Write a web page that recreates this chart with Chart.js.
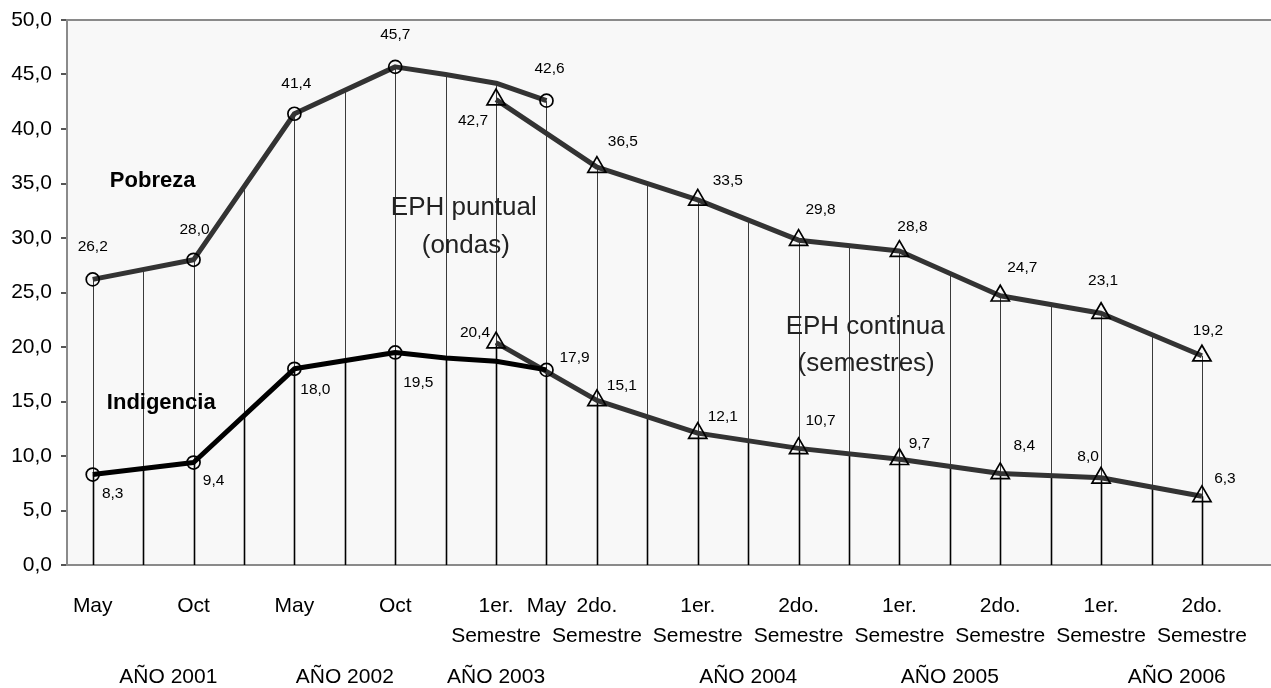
<!DOCTYPE html>
<html lang="es">
<head>
    <meta charset="UTF-8">
    <title>Pobreza e Indigencia</title>
    <script src="https://cdn.jsdelivr.net/npm/chart.js"></script>
    <style>
        body { margin: 0; background: #fff; }
        canvas { display: block; }
    </style>
</head>
<body>
    <canvas id="chart" width="1271" height="688"></canvas>

    <script>
        // Datos (posicion = indice de categoria)
        const ondasX = [0, 2, 4, 6, 9];
        const pobrezaOndas = [26.2, 28.0, 41.4, 45.7, 42.6];
        const indigenciaOndas = [8.3, 9.4, 18.0, 19.5, 17.9];

        // vertices sin rotulo donde la linea quiebra
        const ondasQuiebreX = [7, 8];
        const pobrezaOndasQuiebre = [45.0, 44.2];
        const indigenciaOndasQuiebre = [19.0, 18.7];

        const semestresX = [8, 10, 12, 14, 16, 18, 20, 22];
        const pobrezaSemestres = [42.7, 36.5, 33.5, 29.8, 28.8, 24.7, 23.1, 19.2];
        const indigenciaSemestres = [20.4, 15.1, 12.1, 10.7, 9.7, 8.4, 8.0, 6.3];

        const nCategorias = 23;
        const tickPos = [0, 2, 4, 6, 8, 9, 10, 12, 14, 16, 18, 20, 22];
        const tickLabels = ['May', 'Oct', 'May', 'Oct', ['1er.', 'Semestre'], 'May', ['2do.', 'Semestre'],
            ['1er.', 'Semestre'], ['2do.', 'Semestre'], ['1er.', 'Semestre'], ['2do.', 'Semestre'],
            ['1er.', 'Semestre'], ['2do.', 'Semestre']];

        const anios = ['AÑO 2001', 'AÑO 2002', 'AÑO 2003', 'AÑO 2004', 'AÑO 2005', 'AÑO 2006'];
        const aniosPos = [1.5, 5, 8, 13, 17, 21.5];

        // desplazamiento de los rotulos de datos (px) respecto del punto
        const offPobrezaOndas = [[0, -33], [1, -30], [2, -30], [0, -32], [3, -32]];
        const offIndigenciaOndas = [[20, 19], [20, 18], [21, 21], [23, 30], [28, -12]];
        const offPobrezaSem = [[-23, 21], [26, -25], [30, -19], [22, -30], [13, -24], [22, -28], [2, -32], [6, -25]];
        const offIndigenciaSem = [[-21, -10], [25, -15], [25, -16], [22, -28], [20, -16], [24, -28], [-13, -21], [23, -18]];

        function serie(xs, ys, qx, qy) {
            const pts = xs.map((x, j) => ({ x: x, y: ys[j], j: j }));
            if (qx) qx.forEach((x, k) => pts.push({ x: x, y: qy[k] }));
            return pts.sort((a, b) => a.x - b.x);
        }

        const coma = v => v.toFixed(1).replace('.', ',');

        function lineYAt(meta, px) {
            const pts = meta.data;
            for (let k = 0; k < pts.length - 1; k++) {
                const a = pts[k], b = pts[k + 1];
                if (px >= a.x - 0.6 && px <= b.x + 0.6) {
                    const t = b.x === a.x ? 0 : Math.min(Math.max((px - a.x) / (b.x - a.x), 0), 1);
                    return a.y + t * (b.y - a.y);
                }
            }
            return null;
        }

        // fondo del area de trazado
        const fondo = {
            id: 'fondo',
            beforeDraw(chart) {
                const { ctx, chartArea: a } = chart;
                ctx.save();
                ctx.fillStyle = '#f8f8f8';
                ctx.fillRect(a.left, a.top, a.right - a.left, a.bottom - a.top);
                ctx.restore();
            }
        };

        // lineas de caida desde las series hasta el eje
        const caidas = {
            id: 'caidas',
            beforeDatasetsDraw(chart) {
                const { ctx, chartArea: a, scales } = chart;
                ctx.save();
                for (let i = 0; i < nCategorias; i++) {
                    const px = Math.round(scales.x.getPixelForValue(i)) + 0.5;
                    let yP = null, yI = null;
                    [0, 1].forEach(d => {
                        const y = lineYAt(chart.getDatasetMeta(d), px);
                        if (y !== null && (yP === null || y < yP)) yP = y;
                    });
                    [2, 3].forEach(d => {
                        const y = lineYAt(chart.getDatasetMeta(d), px);
                        if (y !== null && (yI === null || y < yI)) yI = y;
                    });
                    if (yP !== null) {
                        ctx.strokeStyle = '#3a3a3a';
                        ctx.lineWidth = 1;
                        ctx.beginPath();
                        ctx.moveTo(px, yP);
                        ctx.lineTo(px, a.bottom);
                        ctx.stroke();
                    }
                    if (yI !== null) {
                        ctx.strokeStyle = '#000';
                        ctx.lineWidth = 1.6;
                        ctx.beginPath();
                        ctx.moveTo(px, yI);
                        ctx.lineTo(px, a.bottom);
                        ctx.stroke();
                    }
                }
                ctx.restore();
            }
        };

        // rotulos de datos, textos y años
        const textos = {
            id: 'textos',
            afterDatasetsDraw(chart) {
                const { ctx, scales } = chart;
                const x = scales.x, y = scales.y;
                ctx.save();
                ctx.fillStyle = '#000';
                ctx.textAlign = 'center';
                ctx.textBaseline = 'middle';
                ctx.font = '15.5px "Liberation Sans", Arial, sans-serif';
                chart.data.datasets.forEach((ds, d) => {
                    const meta = chart.getDatasetMeta(d);
                    meta.data.forEach((el, k) => {
                        const raw = ds.data[k];
                        if (raw.j === undefined) return;
                        const off = ds.offsets[raw.j];
                        ctx.fillText(coma(raw.y), el.x + off[0], el.y + off[1]);
                    });
                });

                ctx.textAlign = 'left';
                ctx.font = 'bold 22px "Liberation Sans", Arial, sans-serif';
                ctx.fillText('Pobreza', x.getPixelForValue(0.34), y.getPixelForValue(35.2));
                ctx.fillText('Indigencia', x.getPixelForValue(0.28), y.getPixelForValue(14.9));

                ctx.textAlign = 'center';
                ctx.fillStyle = '#222';
                ctx.font = '26px "Liberation Sans", Arial, sans-serif';
                ctx.fillText('EPH puntual', x.getPixelForValue(7.36), y.getPixelForValue(32.75));
                ctx.fillText('(ondas)', x.getPixelForValue(7.4), y.getPixelForValue(29.3));
                ctx.fillText('EPH continua', x.getPixelForValue(15.32), y.getPixelForValue(21.83));
                ctx.fillText('(semestres)', x.getPixelForValue(15.34), y.getPixelForValue(18.5));

                ctx.fillStyle = '#000';
                ctx.font = '21px "Liberation Sans", Arial, sans-serif';
                anios.forEach((t, k) => {
                    ctx.fillText(t, x.getPixelForValue(aniosPos[k]), 677);
                });
                ctx.restore();
            }
        };

        const conMarca = ctx => (ctx.raw && ctx.raw.j !== undefined);

        function linea(data, offsets, color, estilo, radio) {
            return {
                data: data,
                offsets: offsets,
                borderColor: color,
                borderWidth: 5,
                borderJoinStyle: 'round',
                spanGaps: true,
                tension: 0,
                pointStyle: estilo,
                pointRadius: ctx => conMarca(ctx) ? radio : 0,
                pointBorderColor: '#000',
                pointBorderWidth: 1.7,
                pointBackgroundColor: 'rgba(0,0,0,0)'
            };
        }

        new Chart(document.getElementById('chart'), {
            type: 'line',
            data: {
                datasets: [
                    linea(serie(ondasX, pobrezaOndas, ondasQuiebreX, pobrezaOndasQuiebre), offPobrezaOndas, '#333333', 'circle', 6.5),
                    linea(serie(semestresX, pobrezaSemestres), offPobrezaSem, '#333333', 'triangle', 10.5),
                    linea(serie(ondasX, indigenciaOndas, ondasQuiebreX, indigenciaOndasQuiebre), offIndigenciaOndas, '#000000', 'circle', 6.5),
                    linea(serie(semestresX, indigenciaSemestres), offIndigenciaSem, '#333333', 'triangle', 10.5)
                ]
            },
            options: {
                responsive: false,
                animation: false,
                layout: { autoPadding: false, padding: { top: 20, left: 0, right: 0, bottom: 0 } },
                plugins: {
                    legend: { display: false },
                    tooltip: { enabled: false }
                },
                scales: {
                    x: {
                        type: 'linear',
                        min: -0.51,
                        max: 23.37,
                        afterBuildTicks: scale => { scale.ticks = tickPos.map(v => ({ value: v })); },
                        afterFit: scale => {
                            scale.height = 123;
                            scale.paddingLeft = 0;
                            scale.paddingRight = 0;
                        },
                        grid: { display: false },
                        border: { display: true, color: '#8a8a8a', width: 2 },
                        ticks: {
                            autoSkip: false,
                            maxRotation: 0,
                            padding: 18,
                            color: '#000',
                            font: { family: '"Liberation Sans", Arial, sans-serif', size: 21, lineHeight: '30px' },
                            callback: v => tickLabels[tickPos.indexOf(v)]
                        }
                    },
                    y: {
                        min: 0,
                        max: 50,
                        afterFit: scale => {
                            scale.width = 67;
                            scale.paddingTop = 0;
                            scale.paddingBottom = 0;
                        },
                        grid: {
                            color: ctx => ctx.tick && ctx.tick.value === 50 ? '#8a8a8a' : 'rgba(0,0,0,0)',
                            lineWidth: 2,
                            tickColor: '#555',
                            tickLength: 6
                        },
                        border: { display: true, color: '#8a8a8a', width: 2 },
                        ticks: {
                            stepSize: 5,
                            padding: 9,
                            color: '#000',
                            font: { family: '"Liberation Sans", Arial, sans-serif', size: 21 },
                            callback: v => coma(v)
                        }
                    }
                }
            },
            plugins: [fondo, caidas, textos]
        });
    </script>
</body>
</html>
